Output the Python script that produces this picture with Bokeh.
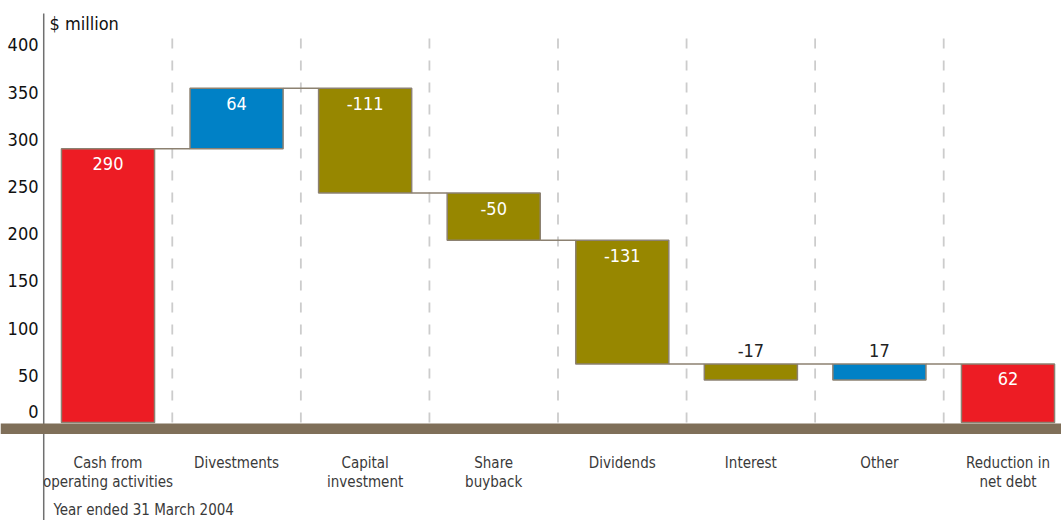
from bokeh.plotting import figure
from bokeh.models import Range1d
from bokeh.embed import file_html
from bokeh.resources import INLINE
from bokeh.core.properties import value

# ---------------- data ----------------
categories = ["Cash from\noperating activities", "Divestments", "Capital\ninvestment",
              "Share\nbuyback", "Dividends", "Interest", "Other", "Reduction in\nnet debt"]
amounts = [290, 64, -111, -50, -131, -17, 17, 62]
is_total = [True, False, False, False, False, False, False, True]
y_ticks = [0, 50, 100, 150, 200, 250, 300, 350, 400]
y_tick_labels = [str(t) for t in y_ticks]
unit_label = "$ million"
footnote = "Year ended 31 March 2004"

# ---------------- derived waterfall geometry ----------------
run = 0
bottoms, tops = [], []
for v, t in zip(amounts, is_total):
    if t:
        b, e = 0, v
        run = v
    else:
        b, e = run, run + v
        run += v
    bottoms.append(min(b, e))
    tops.append(max(b, e))

RED, BLUE, OLIVE = "#ED1C24", "#0081C6", "#978700"
colors = [RED if t else (BLUE if v > 0 else OLIVE) for v, t in zip(amounts, is_total)]
idx = list(range(len(categories)))

# ---------------- layout (window pixels -> data) ----------------
W, H = 1061, 520
OFF = 0
PXX = 128.57                # px per category
PXY = 0.944                 # px per $ million
CX0, CY0 = 107.5, 422.0     # window px of category 0 centre / value 0

def x_at(px):
    return (px - CX0) / PXX

def y_at(py):
    return (CY0 - py) / PXY

X0, X1 = x_at(OFF), x_at(OFF + W)
Y1, Y0 = y_at(OFF), y_at(OFF + H)

FONT = value("DejaVu Sans Condensed, DejaVu Sans, sans-serif")
OUTLINE = "#8c8171"

p = figure(width=W, height=H, output_backend="svg", toolbar_location=None,
           x_range=Range1d(X0, X1), y_range=Range1d(Y0, Y1),
           x_axis_type=None, y_axis_type=None, min_border=0,
           outline_line_color=None, background_fill_color="white")

# dashed category separators
sep_x = [i + 0.5 for i in idx[:-1]]
p.segment(x0=sep_x, y0=[0] * len(sep_x), x1=sep_x, y1=[y_at(30)] * len(sep_x),
          line_color="#cccccc", line_width=1.8, line_dash="10 12")

# vertical axis line
p.segment(x0=[-0.5], y0=[y_at(13)], x1=[-0.5], y1=[Y0], line_color="#707070", line_width=1.5)

# baseline band
p.quad(left=[X0], right=[X1], top=[y_at(423)], bottom=[y_at(433.5)],
       fill_color="#7f6f59", line_color=None)

# connectors
BW = 0.724
cx0 = [i + BW / 2 for i in idx[:-1]]
cx1 = [i + 1 - BW / 2 for i in idx[:-1]]
lev = [min(tops[i], tops[i + 1]) for i in idx[:-1]]
p.segment(x0=cx0, y0=lev, x1=cx1, y1=lev, line_color=OUTLINE, line_width=1.5)

# bars
p.vbar(x=idx, width=BW, bottom=bottoms, top=tops, fill_color=colors,
       line_color=OUTLINE, line_width=1.5)

# value labels
inside = [i for i in idx if abs(amounts[i]) >= 30]
outside = [i for i in idx if abs(amounts[i]) < 30]
p.text(x=inside, y=[tops[i] for i in inside], text=[str(amounts[i]) for i in inside],
       text_font=FONT, text_font_size="18px", text_color="white",
       text_align="center", text_baseline="middle", y_offset=15)
p.text(x=outside, y=[tops[i] for i in outside], text=[str(amounts[i]) for i in outside],
       text_font=FONT, text_font_size="18px", text_color="#222222",
       text_align="center", text_baseline="middle", y_offset=-13)

# y tick labels
p.text(x=[x_at(38)] * (len(y_ticks) - 1), y=y_ticks[1:], text=y_tick_labels[1:],
       text_font=FONT, text_font_size="18px", text_color="#111111",
       text_align="right", text_baseline="middle")
p.text(x=[x_at(38)], y=y_ticks[:1], text=y_tick_labels[:1],
       text_font=FONT, text_font_size="18px", text_color="#111111",
       text_align="right", text_baseline="middle", y_offset=-11)

# unit label
p.text(x=[x_at(49)], y=[y_at(22.5)], text=[unit_label], text_font=FONT,
       text_font_size="18px", text_color="#111111", text_align="left",
       text_baseline="middle")

# category labels
p.text(x=idx, y=[y_at(453)] * len(idx), text=categories, text_font=FONT,
       text_font_size="15px", text_color="#3a3a3a", text_align="center",
       text_baseline="top", text_line_height=1.1)

# footnote
p.text(x=[x_at(53)], y=[y_at(509)], text=[footnote], text_font=FONT,
       text_font_size="15px", text_color="#3a3a3a", text_align="left",
       text_baseline="middle")

open("out.html", "w").write(file_html(p, INLINE))
